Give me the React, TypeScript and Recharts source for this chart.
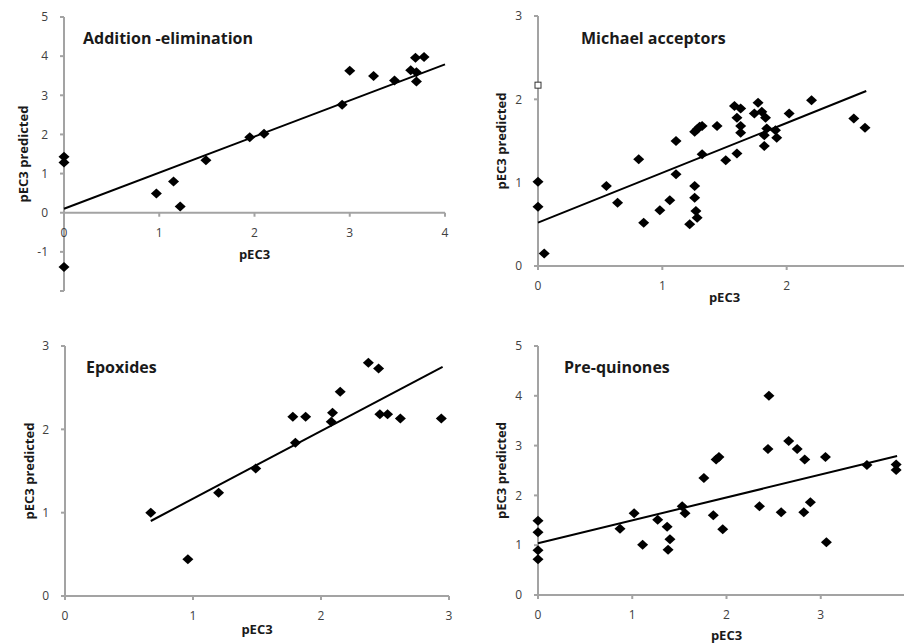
import { ScatterChart, Scatter, XAxis, YAxis, ReferenceLine, ReferenceDot } from "recharts";

const FONT = "'Open Sans', sans-serif";
const AXIS_GREY = "#a3a3a3";
const TEXT_GREY = "#404040";

// Addition-elimination
const additionPoints = [
  { x: 0, y: 1.43 }, { x: 0, y: 1.28 }, { x: 0, y: -1.39 },
  { x: 0.97, y: 0.49 }, { x: 1.15, y: 0.8 }, { x: 1.22, y: 0.16 },
  { x: 1.49, y: 1.34 }, { x: 1.95, y: 1.93 }, { x: 2.1, y: 2.02 },
  { x: 2.92, y: 2.76 }, { x: 3.0, y: 3.63 }, { x: 3.25, y: 3.49 },
  { x: 3.47, y: 3.38 }, { x: 3.64, y: 3.64 }, { x: 3.69, y: 3.96 },
  { x: 3.78, y: 3.98 }, { x: 3.7, y: 3.59 }, { x: 3.7, y: 3.35 },
];
const additionFit = [{ x: 0, y: 0.1 }, { x: 4, y: 3.79 }];
const additionXTicks = [0, 1, 2, 3, 4];
const additionYTicks = [-2, -1, 0, 1, 2, 3, 4, 5];

// Michael acceptors
const michaelPoints = [
  { x: 0, y: 1.01 }, { x: 0, y: 0.71 }, { x: 0.05, y: 0.15 },
  { x: 0.55, y: 0.96 }, { x: 0.64, y: 0.76 }, { x: 0.81, y: 1.28 },
  { x: 0.85, y: 0.52 }, { x: 0.98, y: 0.67 }, { x: 1.06, y: 0.79 },
  { x: 1.11, y: 1.5 }, { x: 1.11, y: 1.1 }, { x: 1.22, y: 0.5 },
  { x: 1.26, y: 0.96 }, { x: 1.26, y: 0.82 }, { x: 1.27, y: 0.66 },
  { x: 1.28, y: 0.58 }, { x: 1.26, y: 1.61 }, { x: 1.28, y: 1.64 },
  { x: 1.3, y: 1.67 }, { x: 1.32, y: 1.68 }, { x: 1.32, y: 1.34 },
  { x: 1.44, y: 1.68 }, { x: 1.51, y: 1.27 }, { x: 1.58, y: 1.92 },
  { x: 1.6, y: 1.78 }, { x: 1.6, y: 1.35 }, { x: 1.63, y: 1.89 },
  { x: 1.63, y: 1.68 }, { x: 1.63, y: 1.6 }, { x: 1.74, y: 1.83 },
  { x: 1.77, y: 1.96 }, { x: 1.8, y: 1.85 }, { x: 1.83, y: 1.78 },
  { x: 1.82, y: 1.57 }, { x: 1.82, y: 1.44 }, { x: 1.84, y: 1.65 },
  { x: 1.91, y: 1.63 }, { x: 1.92, y: 1.54 }, { x: 2.02, y: 1.83 },
  { x: 2.2, y: 1.99 }, { x: 2.54, y: 1.77 }, { x: 2.63, y: 1.66 },
];
const michaelOutlier = [{ x: 0, y: 2.17 }];
const michaelFit = [{ x: 0, y: 0.52 }, { x: 2.64, y: 2.1 }];
const michaelXTicks = [0, 1, 2];
const michaelYTicks = [0, 1, 2, 3];

// Epoxides
const epoxidePoints = [
  { x: 0.67, y: 1.0 }, { x: 0.96, y: 0.44 }, { x: 1.2, y: 1.24 },
  { x: 1.49, y: 1.53 }, { x: 1.78, y: 2.15 }, { x: 1.8, y: 1.84 },
  { x: 1.88, y: 2.15 }, { x: 2.08, y: 2.09 }, { x: 2.09, y: 2.2 },
  { x: 2.15, y: 2.45 }, { x: 2.37, y: 2.8 }, { x: 2.45, y: 2.73 },
  { x: 2.46, y: 2.18 }, { x: 2.52, y: 2.18 }, { x: 2.62, y: 2.13 },
  { x: 2.94, y: 2.13 },
];
const epoxideFit = [{ x: 0.67, y: 0.9 }, { x: 2.95, y: 2.75 }];
const epoxideXTicks = [0, 1, 2, 3];
const epoxideYTicks = [0, 1, 2, 3];

// Pre-quinones
const quinonePoints = [
  { x: 0, y: 1.49 }, { x: 0, y: 1.26 }, { x: 0, y: 0.9 }, { x: 0, y: 0.72 },
  { x: 0.87, y: 1.33 }, { x: 1.02, y: 1.64 }, { x: 1.11, y: 1.01 },
  { x: 1.27, y: 1.51 }, { x: 1.37, y: 1.37 }, { x: 1.4, y: 1.12 },
  { x: 1.38, y: 0.91 }, { x: 1.53, y: 1.78 }, { x: 1.56, y: 1.64 },
  { x: 1.76, y: 2.35 }, { x: 1.86, y: 1.6 }, { x: 1.89, y: 2.72 },
  { x: 1.92, y: 2.77 }, { x: 1.96, y: 1.32 }, { x: 2.35, y: 1.78 },
  { x: 2.45, y: 4.0 }, { x: 2.44, y: 2.93 }, { x: 2.58, y: 1.66 },
  { x: 2.66, y: 3.09 }, { x: 2.75, y: 2.93 }, { x: 2.83, y: 2.72 },
  { x: 2.82, y: 1.66 }, { x: 2.89, y: 1.86 }, { x: 3.05, y: 2.77 },
  { x: 3.06, y: 1.06 }, { x: 3.49, y: 2.61 }, { x: 3.8, y: 2.62 },
  { x: 3.8, y: 2.51 },
];
const quinoneFit = [{ x: 0, y: 1.04 }, { x: 3.81, y: 2.79 }];
const quinoneXTicks = [0, 1, 2, 3];
const quinoneYTicks = [0, 1, 2, 3, 4, 5];

const Diamond = (p: any) => {
  const { cx, cy } = p;
  if (cx == null || cy == null) return <g />;
  return (
    <polygon
      points={`${cx},${cy - 5} ${cx + 5.5},${cy} ${cx},${cy + 5} ${cx - 5.5},${cy}`}
      fill="#000"
    />
  );
};

const OpenSquare = (p: any) => (
  <rect x={p.cx - 3} y={p.cy - 3} width={6} height={6} fill="#fff" stroke="#333" strokeWidth={1} />
);

const NoDot = () => <g />;

const tickStyle = { fill: TEXT_GREY, fontSize: 12, fontFamily: FONT };

const labelStyle = {
  fill: "#1a1a1a",
  fontSize: 13,
  fontWeight: 700,
  fontFamily: FONT,
};

interface PanelProps {
  left: number;
  top: number;
  width: number;
  height: number;
  margin: { top: number; right: number; bottom: number; left: number };
  yAxisWidth: number;
  xAxisHeight: number;
  xDomain: [number, number];
  yDomain: [number, number];
  xTicks: number[];
  yTicks: number[];
  points: { x: number; y: number }[];
  fit: { x: number; y: number }[];
  extra?: { x: number; y: number }[];
  yLabelX: number;
  xLabelDy: number;
  xAxisAtZero?: boolean;
}

const Panel = (props: PanelProps) => {
  const {
    left, top, width, height, margin, yAxisWidth, xAxisHeight,
    xDomain, yDomain, xTicks, yTicks, points, fit, extra,
    yLabelX, xLabelDy, xAxisAtZero,
  } = props;

  const yLabel = (lp: any) => {
    const vb = lp.viewBox;
    const cx = vb.x + yLabelX;
    const cy = vb.y + vb.height / 2;
    return (
      <text x={cx} y={cy} transform={`rotate(-90, ${cx}, ${cy})`} textAnchor="middle"
        dominantBaseline="central" style={labelStyle}>
        pEC3 predicted
      </text>
    );
  };

  const xLabel = (lp: any) => {
    const vb = lp.viewBox;
    const cx = vb.x + vb.width / 2;
    return (
      <text x={cx} y={vb.y + xLabelDy} textAnchor="middle" dominantBaseline="central" style={labelStyle}>
        pEC3
      </text>
    );
  };

  return (
    <div style={{ position: "absolute", left, top }}>
      <ScatterChart width={width} height={height} margin={margin}>
        <XAxis
          type="number"
          dataKey="x"
          domain={xDomain}
          ticks={xTicks}
          hide={xAxisAtZero}
          height={xAxisHeight}
          stroke={AXIS_GREY}
          axisLine={{ stroke: AXIS_GREY, strokeWidth: 2 }}
          tickLine={{ stroke: AXIS_GREY, strokeWidth: 2 }}
          tickSize={4}
          tickMargin={11}
          tick={tickStyle}
          label={xLabel}
        />
        <YAxis
          type="number"
          dataKey="y"
          domain={yDomain}
          ticks={yTicks}
          width={yAxisWidth}
          stroke={AXIS_GREY}
          axisLine={{ stroke: AXIS_GREY, strokeWidth: 2 }}
          tickLine={{ stroke: AXIS_GREY, strokeWidth: 2 }}
          tickSize={4}
          tickMargin={12}
          tick={tickStyle}
          tickFormatter={(v: number) => (xAxisAtZero && v === yDomain[0] ? "" : String(v))}
          label={yLabel}
        />
        {xAxisAtZero && <ReferenceLine y={0} stroke={AXIS_GREY} strokeWidth={2} />}
        {xAxisAtZero &&
          xTicks.map((t) => (
            <ReferenceDot
              key={t}
              x={t}
              y={0}
              r={0}
              shape={(sp: any) => (
                <g>
                  <line x1={sp.cx} y1={sp.cy} x2={sp.cx} y2={sp.cy + 4} stroke={AXIS_GREY} strokeWidth={2} />
                  <text x={sp.cx} y={sp.cy + 20} textAnchor="middle" dominantBaseline="central" style={tickStyle}>
                    {t}
                  </text>
                </g>
              )}
            />
          ))}
        {xAxisAtZero && (
          <ReferenceDot
            x={(xDomain[0] + xDomain[1]) / 2}
            y={0}
            r={0}
            shape={(sp: any) => (
              <text x={sp.cx} y={sp.cy + xLabelDy} textAnchor="middle" dominantBaseline="central" style={labelStyle}>
                pEC3
              </text>
            )}
          />
        )}
        <Scatter
          data={fit}
          line={{ stroke: "#000", strokeWidth: 2 }}
          shape={NoDot}
          isAnimationActive={false}
        />
        <Scatter data={points} shape={Diamond} isAnimationActive={false} />
        {extra && <Scatter data={extra} shape={OpenSquare} isAnimationActive={false} />}
      </ScatterChart>
    </div>
  );
};

const titleStyle = {
  position: "absolute" as const,
  fontFamily: FONT,
  fontWeight: 700,
  fontSize: 16,
  lineHeight: "20px",
  color: "#1a1a1a",
  whiteSpace: "nowrap" as const,
};

export default function App() {
  return (
    <div
      style={{
        position: "absolute",
        left: 0,
        top: 0,
        width: 904,
        height: 643,
        overflow: "hidden",
        background: "#fff",
      }}
    >
      <Panel
        left={0}
        top={0}
        width={460}
        height={310}
        margin={{ top: 17, right: 15, bottom: 19, left: 0 }}
        yAxisWidth={64}
        xAxisHeight={0}
        xDomain={[0, 4]}
        yDomain={[-2, 5]}
        xTicks={additionXTicks}
        yTicks={additionYTicks}
        points={additionPoints}
        fit={additionFit}
        yLabelX={23}
        xLabelDy={41}
        xAxisAtZero
      />
      <Panel
        left={452}
        top={0}
        width={470}
        height={310}
        margin={{ top: 16, right: 11, bottom: 4, left: 0 }}
        yAxisWidth={86}
        xAxisHeight={40}
        xDomain={[0, 3]}
        yDomain={[0, 3]}
        xTicks={michaelXTicks}
        yTicks={michaelYTicks}
        points={michaelPoints}
        fit={michaelFit}
        extra={michaelOutlier}
        yLabelX={49}
        xLabelDy={31}
      />
      <Panel
        left={0}
        top={330}
        width={460}
        height={313}
        margin={{ top: 16, right: 11, bottom: 7, left: 0 }}
        yAxisWidth={65}
        xAxisHeight={40}
        xDomain={[0, 3]}
        yDomain={[0, 3]}
        xTicks={epoxideXTicks}
        yTicks={epoxideYTicks}
        points={epoxidePoints}
        fit={epoxideFit}
        yLabelX={29}
        xLabelDy={33}
      />
      <Panel
        left={452}
        top={330}
        width={475}
        height={313}
        margin={{ top: 16, right: 12, bottom: 0, left: 0 }}
        yAxisWidth={86}
        xAxisHeight={48}
        xDomain={[0, 4]}
        yDomain={[0, 5]}
        xTicks={quinoneXTicks}
        yTicks={quinoneYTicks}
        points={quinonePoints}
        fit={quinoneFit}
        yLabelX={49}
        xLabelDy={40}
      />
      <div style={{ ...titleStyle, left: 83, top: 28 }}>Addition -elimination</div>
      <div style={{ ...titleStyle, left: 581, top: 28 }}>Michael acceptors</div>
      <div style={{ ...titleStyle, left: 86, top: 357 }}>Epoxides</div>
      <div style={{ ...titleStyle, left: 564, top: 357 }}>Pre-quinones</div>
    </div>
  );
}
